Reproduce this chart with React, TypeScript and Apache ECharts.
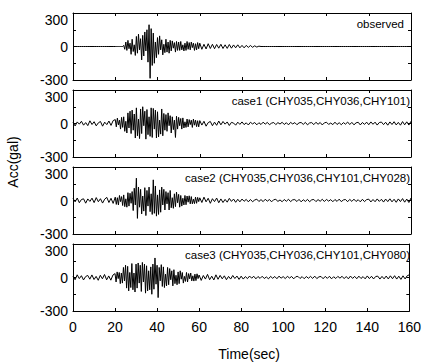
import React, { useEffect, useRef } from "react";
import * as echarts from "echarts";

// Time grids: pre 0..19 s (1 s step), main 20..59.5 s (0.5 s step), post 60..160 s (1 s step)
const PRE_START = 0;
const PRE_STEP = 1;
const MAIN_START = 20;
const MAIN_STEP = 0.5;
const POST_START = 60;
const POST_STEP = 1;

const panelLabels = [
  "observed",
  "case1 (CHY035,CHY036,CHY101)",
  "case2 (CHY035,CHY036,CHY101,CHY028)",
  "case3 (CHY035,CHY036,CHY101,CHY080)",
];

const xTicks = [0, 20, 40, 60, 80, 100, 120, 140, 160];
const yTickLabels = [-300, 0, 300];

// ---- observed ----
const observedPre = [0, 0, 0, 0, 0, 0, 0, 0, 0, 0, 0, 0, 0, 0, 0, 0, 0, 0, 0, 0];
const observedMain = [
  0, 0, 0, 0, 0, 0, 0, 0,
  10, -25, 40, -35,
  55, -20, 30, -70, 65, -45, 15, -80,
  90, -60, 110, -30, 70, -120, 100, -85,
  130, -40, 150, -140, 195, -285, 160, -170,
  120, -150, 40, -100, 80, -70, 95, -30,
  60, -75, 20, -55, 65, -50, 40, -60,
  55, -40, 50, -15, 35, -50, 45, -35,
  40, -35, 45, -30, 15, -40, 30, -35,
  45, -25, 35, -30, 40, -10, 30, -35,
  25, -30, 35, -20,
];
const observedPost = [
  30, -25, 20, -22, 25, -18, 20, -20, 18, -15,
  20, -18, 15, -17, 18, -15, 14, -12, 15, -12,
  10, -12, 10, -8, 9, -7, 6, -5, 3, 0,
  0, 0, 0, 0, 0, 0, 0, 0, 0, 0,
  0, 0, 0, 0, 0, 0, 0, 0, 0, 0,
  0, 0, 0, 0, 0, 0, 0, 0, 0, 0,
  0, 0, 0, 0, 0, 0, 0, 0, 0, 0,
  0, 0, 0, 0, 0, 0, 0, 0, 0, 0,
  0, 0, 0, 0, 0, 0, 0, 0, 0, 0,
  0, 0, 0, 0, 0, 0, 0, 0, 0, 0,
  0,
];

// ---- case1 ----
const case1Pre = [10, -22, 14, -6, 20, -15, 8, -19, 24, -9, 16, -21, 6, 18, -24, 12, -10, 22, -17, 26];
const case1Main = [
  35, -30, 48, -12, 30, -50, 55, -35,
  60, -70, 20, -85, 95, -40, 110, -90,
  120, -60, 85, -130, 140, -110, 40, -135,
  130, -90, 150, -20, 110, -140, 125, -100,
  60, -115, 140, -125, 135, -50, 120, -130,
  105, -120, 30, -95, 130, -110, 90, -60,
  80, -70, 95, -20, 70, -85, 60, -55,
  30, -125, 65, -50, 55, -20, 45, -50,
  50, -40, 15, -35, 40, -30, 35, -10,
  30, -35, 40, -15, 30, -28, 25, -30,
];
const case1Post = [
  26, -14, 20, -24, 8, 18, -20, 12, -16, 22,
  -12, 18, -6, 14, -18, 10, 4, -15, 12, -8,
  14, -10, 6, -13, 11, -4, 9, -12, 7, -9,
  12, -6, 10, -11, 3, 9, -10, 8, -5, 11,
  -9, 7, -12, 10, -4, 8, -11, 6, 9, -8,
  10, -12, 5, 8, -10, 11, -7, 9, -13, 6,
  11, -8, 4, -10, 12, -9, 7, -11, 8, -6,
  13, -9, 10, -12, 6, 11, -13, 9, -8, 12,
  -11, 14, -7, 12, -14, 9, 13, -10, 11, -15,
  14, -9, 16, -13, 10, -15, 17, -12, 15, -14, 20,
];

// ---- case2 ----
const case2Pre = [18, -12, 22, -20, 9, 15, -24, 14, -8, 21, -19, 26, -11, 16, -23, 12, 28, -18, 20, -26];
const case2Main = [
  30, -35, 25, -40, 45, -10, 35, -45,
  50, -55, 15, -60, 70, -50, 65, -25,
  80, -90, 110, -40, 200, -160, 120, -60,
  100, -120, 40, -95, 115, -135, 90, -50,
  120, -100, 60, -125, 185, -115, 130, -140,
  50, -125, 95, -105, 120, -40, 100, -85,
  80, -30, 70, -85, 90, -65, 25, -70,
  60, -55, 75, -20, 55, -60, 45, -50,
  20, -40, 45, -38, 40, -15, 42, -30,
  35, -30, 12, -28, 30, -25, 28, -10,
];
const case2Post = [
  24, -18, 30, -12, 20, -25, 16, -10, 22, -20,
  14, -18, 10, -15, 19, -8, 13, -16, 11, -12,
  13, -7, 10, -12, 9, -11, 4, 12, -9, 8,
  -10, 11, -6, 9, -12, 7, 10, -8, 5, -11,
  9, -7, 11, -10, 6, 8, -9, 10, -12, 7,
  -8, 10, -11, 6, 9, -10, 8, -7, 11, -9,
  10, -6, 8, -11, 9, -8, 12, -10, 5, 9,
  -11, 10, -8, 12, -9, 7, -12, 11, -10, 8,
  12, -13, 9, -11, 14, -8, 11, -14, 13, -10,
  15, -12, 11, -16, 14, -10, 17, -15, 13, -18, 22,
];

// ---- case3 ----
const case3Pre = [12, -20, 24, -10, 16, -22, 8, 19, -15, 23, -18, 10, -25, 20, -12, 27, -21, 14, -24, 22];
const case3Main = [
  35, -40, 50, -10, 45, -55, 40, -50,
  90, -30, 110, -95, 100, -120, 45, -90,
  125, -110, 40, -130, 120, -95, 130, -50,
  110, -125, 135, -40, 120, -140, 105, -120,
  60, -110, 95, -150, 120, -105, 175, -60,
  110, -180, 90, -30, 115, -80, 95, -90,
  30, -75, 90, -65, 80, -20, 60, -75,
  70, -55, 20, -65, 50, -55, 60, -15,
  45, -50, 10, -35, 45, -40, 35, -12,
  40, -30, 15, -32, 30, -28, 33, -10,
];
const case3Post = [
  22, -26, 18, -14, 28, -20, 12, -22, 24, -16,
  19, -12, 15, -20, 10, -14, 18, -9, 13, -17,
  12, -14, 8, -10, 13, -6, 11, -12, 9, -8,
  11, -9, 5, -12, 10, -7, 9, -11, 12, -6,
  8, -10, 11, -5, 9, -12, 7, 10, -9, 8,
  -11, 9, -7, 10, -8, 12, -10, 6, 9, -11,
  10, -8, 11, -12, 7, -9, 10, -6, 11, -10,
  9, -12, 13, -8, 10, -11, 12, -9, 8, -12,
  14, -10, 11, -13, 9, 12, -14, 10, -12, 13,
  -13, 15, -11, 16, -14, 12, -17, 15, -13, 16, 24,
];

const waves = [
  [observedPre, observedMain, observedPost],
  [case1Pre, case1Main, case1Post],
  [case2Pre, case2Main, case2Post],
  [case3Pre, case3Main, case3Post],
];

function toPairs(pre: number[], main: number[], post: number[]) {
  const out: [number, number][] = [];
  pre.forEach((v, i) => out.push([PRE_START + i * PRE_STEP, v]));
  main.forEach((v, i) => out.push([MAIN_START + i * MAIN_STEP, v]));
  post.forEach((v, i) => out.push([POST_START + i * POST_STEP, v]));
  return out;
}

const FONT = "Liberation Sans, Arial, Helvetica, sans-serif";

export default function App() {
  const ref = useRef<HTMLDivElement>(null);
  useEffect(() => {
    if (!ref.current) return;
    const chart = echarts.init(ref.current, undefined, { renderer: "svg" });
    const tops = [13, 90, 167, 244];
    const H = 67;
    const grids = tops.map((t) => ({ left: 73, width: 338, top: t, height: H }));
    const lineStyle = { color: "#000", width: 1 };
    const xAxes: any[] = [];
    const yAxes: any[] = [];
    const series: any[] = [];
    tops.forEach((_, i) => {
      const isLast = i === tops.length - 1;
      xAxes.push({
        gridIndex: i,
        type: "value",
        min: xTicks[0],
        max: xTicks[xTicks.length - 1],
        interval: 20,
        position: "bottom",
        axisLine: { show: true, onZero: false, lineStyle },
        axisTick: { show: true, inside: true, length: 3, lineStyle },
        axisLabel: {
          show: isLast,
          color: "#000",
          fontSize: 14,
          fontFamily: FONT,
          margin: 9,
        },
        splitLine: { show: false },
        name: isLast ? "Time(sec)" : "",
        nameLocation: "middle",
        nameGap: 36,
        nameTextStyle: { color: "#000", fontSize: 14, fontFamily: FONT, padding: [0, 0, 0, 16] },
      });
      xAxes.push({
        gridIndex: i,
        type: "value",
        min: 0,
        max: 160,
        interval: 20,
        position: "top",
        axisLine: { show: true, onZero: false, lineStyle },
        axisTick: { show: true, inside: true, length: 3, lineStyle },
        axisLabel: { show: false },
        splitLine: { show: false },
      });
      yAxes.push({
        gridIndex: i,
        type: "value",
        min: -300,
        max: 300,
        interval: 150,
        position: "left",
        axisLine: { show: true, onZero: false, lineStyle },
        axisTick: { show: true, inside: true, length: 3, lineStyle },
        axisLabel: {
          color: "#000",
          fontSize: 14,
          fontFamily: FONT,
          margin: 5,
          verticalAlignMaxLabel: "top",
          formatter: (v: number) => (yTickLabels.includes(v) ? String(v) : ""),
        },
        splitLine: { show: false },
      });
      yAxes.push({
        gridIndex: i,
        type: "value",
        min: -300,
        max: 300,
        interval: 150,
        position: "right",
        axisLine: { show: true, onZero: false, lineStyle },
        axisTick: { show: true, inside: true, length: 3, lineStyle },
        axisLabel: { show: false },
        splitLine: { show: false },
      });
      const [pre, main, post] = waves[i];
      series.push({
        type: "line",
        xAxisIndex: i * 2,
        yAxisIndex: i * 2,
        data: toPairs(pre, main, post),
        showSymbol: false,
        symbol: "none",
        lineStyle: { color: "#000", width: 1 },
        silent: true,
      });
    });

    const labelGraphics = panelLabels.map((txt, i) => ({
      type: "text",
      x: i === 0 ? 404 : 410,
      y: tops[i] + 11,
      style: {
        text: txt,
        fontSize: 11.5,
        fontFamily: FONT,
        fill: "#000",
        align: "right",
        verticalAlign: "middle",
      },
    }));

    chart.setOption({
      animation: false,
      backgroundColor: "#fff",
      grid: grids,
      xAxis: xAxes,
      yAxis: yAxes,
      series,
      graphic: [
        ...labelGraphics,
        {
          type: "text",
          x: 13,
          y: 162,
          rotation: Math.PI / 2,
          style: {
            text: "Acc(gal)",
            fontSize: 14,
            fontFamily: FONT,
            fill: "#000",
            align: "center",
            verticalAlign: "middle",
          },
        },
      ],
    });
    return () => chart.dispose();
  }, []);
  return (
    <div
      ref={ref}
      style={{ position: "absolute", left: 0, top: 0, width: 424, height: 364, background: "#fff" }}
    />
  );
}
